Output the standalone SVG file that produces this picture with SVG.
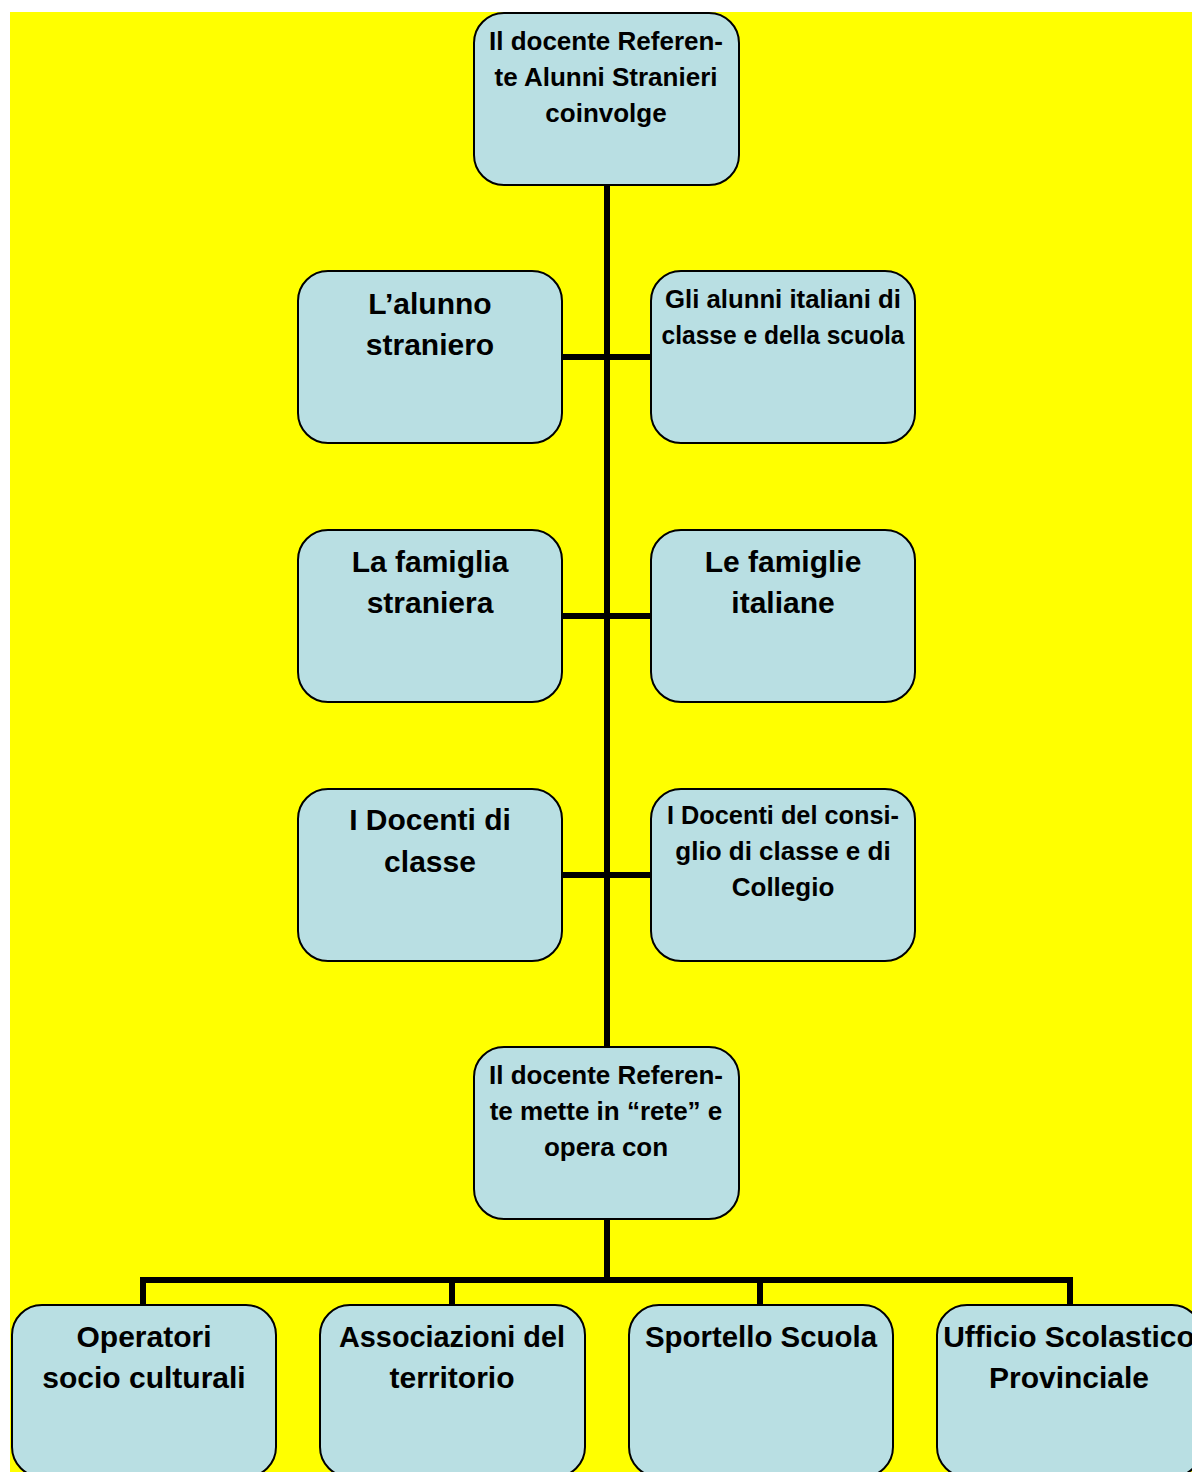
<svg xmlns="http://www.w3.org/2000/svg" width="1192" height="1472" viewBox="0 0 1192 1472">
<style>
.box{fill:#B9DFE3;stroke:#000;stroke-width:2}
.t{font-family:"Liberation Sans",Arial,sans-serif;font-weight:bold;fill:#000;text-anchor:middle}
.s{font-size:26px}
.l{font-size:30px}
.c{stroke:#000;stroke-width:6;fill:none}
</style>
<rect x="0" y="0" width="1192" height="1472" fill="#fff"/>
<rect x="10" y="12" width="1182" height="1460" fill="#FFFF00"/>
<g id="connectors">
<line class="c" x1="607" y1="185" x2="607" y2="1047"/>
<line class="c" x1="562" y1="357" x2="651" y2="357"/>
<line class="c" x1="562" y1="616" x2="651" y2="616"/>
<line class="c" x1="562" y1="875" x2="651" y2="875"/>
<line class="c" x1="607" y1="1219" x2="607" y2="1280"/>
<polyline class="c" points="143,1305 143,1280 1070,1280 1070,1305"/>
<line class="c" x1="452" y1="1280" x2="452" y2="1305"/>
<line class="c" x1="760" y1="1280" x2="760" y2="1305"/>
</g>
<g id="n_top">
<rect class="box" x="474" y="13" width="265" height="172" rx="30"/>
<text class="t s" x="606" y="50">Il docente Referen-</text>
<text class="t s" x="606" y="86">te Alunni Stranieri</text>
<text class="t s" x="606" y="122">coinvolge</text>
</g>
<g id="n_alunno">
<rect class="box" x="298" y="271" width="264" height="172" rx="30"/>
<text class="t l" x="430" y="314">L’alunno</text>
<text class="t l" x="430" y="355">straniero</text>
</g>
<g id="n_alunni_it">
<rect class="box" x="651" y="271" width="264" height="172" rx="30"/>
<text class="t s" x="783" y="308" textLength="236" lengthAdjust="spacingAndGlyphs">Gli alunni italiani di</text>
<text class="t s" x="783" y="344" textLength="243" lengthAdjust="spacingAndGlyphs">classe e della scuola</text>
</g>
<g id="n_famiglia">
<rect class="box" x="298" y="530" width="264" height="172" rx="30"/>
<text class="t l" x="430" y="572">La famiglia</text>
<text class="t l" x="430" y="613">straniera</text>
</g>
<g id="n_famiglie_it">
<rect class="box" x="651" y="530" width="264" height="172" rx="30"/>
<text class="t l" x="783" y="572">Le famiglie</text>
<text class="t l" x="783" y="613">italiane</text>
</g>
<g id="n_docenti">
<rect class="box" x="298" y="789" width="264" height="172" rx="30"/>
<text class="t l" x="430" y="830">I Docenti di</text>
<text class="t l" x="430" y="872">classe</text>
</g>
<g id="n_consiglio">
<rect class="box" x="651" y="789" width="264" height="172" rx="30"/>
<text class="t s" x="783" y="824" textLength="232" lengthAdjust="spacingAndGlyphs">I Docenti del consi-</text>
<text class="t s" x="783" y="860">glio di classe e di</text>
<text class="t s" x="783" y="896">Collegio</text>
</g>
<g id="n_rete">
<rect class="box" x="474" y="1047" width="265" height="172" rx="30"/>
<text class="t s" x="606" y="1084">Il docente Referen-</text>
<text class="t s" x="606" y="1120">te mette in “rete” e</text>
<text class="t s" x="606" y="1156">opera con</text>
</g>
<g id="n_operatori">
<rect class="box" x="12" y="1305" width="264" height="172" rx="30"/>
<text class="t l" x="144" y="1347">Operatori</text>
<text class="t l" x="144" y="1388">socio culturali</text>
</g>
<g id="n_associazioni">
<rect class="box" x="320" y="1305" width="265" height="172" rx="30"/>
<text class="t l" x="452" y="1347" textLength="226" lengthAdjust="spacingAndGlyphs">Associazioni del</text>
<text class="t l" x="452" y="1388">territorio</text>
</g>
<g id="n_sportello">
<rect class="box" x="629" y="1305" width="264" height="172" rx="30"/>
<text class="t l" x="761" y="1347" textLength="232" lengthAdjust="spacingAndGlyphs">Sportello Scuola</text>
</g>
<g id="n_ufficio">
<rect class="box" x="937" y="1305" width="265" height="172" rx="30"/>
<text class="t l" x="1069" y="1347">Ufficio Scolastico</text>
<text class="t l" x="1069" y="1388">Provinciale</text>
</g>
</svg>
